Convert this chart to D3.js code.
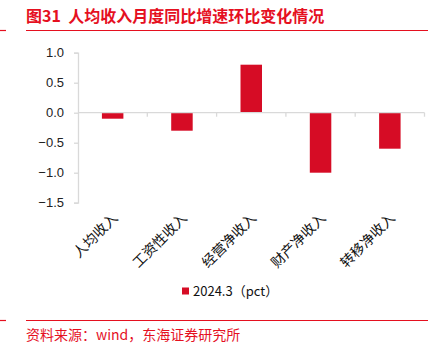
<!DOCTYPE html>
<html><head><meta charset="utf-8">
<script src="https://cdn.jsdelivr.net/npm/d3@7"></script>
<style>body{margin:0;background:#fff}svg{display:block}</style>
</head><body>
<script>
const categories = ["人均收入","工资性收入","经营净收入","财产净收入","转移净收入"];
const values = [-0.1, -0.3, 0.8, -1.0, -0.6];
const yTicks = [1.0, 0.5, 0.0, -0.5, -1.0, -1.5];
const seriesName = "2024.3（pct）";
const titleText = "图31  人均收入月度同比增速环比变化情况";
const sourceText = "资料来源：wind，东海证券研究所";

const W = 436, H = 345;
const red = "#e5101f", barColor = "#d60c25", axisColor = "#d9d9d9";
const svg = d3.select("body").append("svg").attr("width", W).attr("height", H);
const cjk = "'Noto Sans CJK SC','Liberation Sans',sans-serif";

// title
svg.append("text").attr("x", 26).attr("y", 22).attr("fill", red)
  .attr("font-family", cjk).attr("font-weight", "bold").attr("font-size", 16)
  .style("white-space","pre").text(titleText);
[[0,6],[26,428]].forEach(([a,b]) => svg.append("line").attr("x1",a).attr("x2",b)
  .attr("y1",30.5).attr("y2",30.5).attr("stroke",red).attr("stroke-width",1.2));
[[0,6],[26,428]].forEach(([a,b]) => svg.append("line").attr("x1",a).attr("x2",b)
  .attr("y1",320.5).attr("y2",320.5).attr("stroke",red).attr("stroke-width",1.2));
svg.append("text").attr("x", 26).attr("y", 340).attr("fill", red)
  .attr("font-family", cjk).attr("font-size", 14).text(sourceText);

const x = d3.scaleBand().domain(categories).range([78, 424.5]).paddingInner(0.69).paddingOuter(0.345);
const y = d3.scaleLinear().domain([-1.5, 1.0]).range([202.7, 52.7]);

// y axis
const ya = svg.append("g").attr("transform", "translate(78,0)")
  .call(d3.axisLeft(y).tickValues(yTicks).tickFormat(d3.format(".1f")).tickSizeOuter(0).tickSize(4).tickPadding(10));
ya.select(".domain").attr("stroke", axisColor).attr("stroke-width", 1.3);
ya.selectAll(".tick line").attr("stroke", axisColor).attr("stroke-width", 1.3);
ya.selectAll("text").attr("fill", "#222").attr("font-size", 13).attr("font-family", "'Liberation Sans',Arial,sans-serif");

// bars
svg.selectAll("rect.bar").data(values).enter().append("rect").attr("class","bar")
  .attr("x", (d,i) => x(categories[i]))
  .attr("width", x.bandwidth())
  .attr("y", d => y(Math.max(0,d)))
  .attr("height", d => Math.abs(y(d) - y(0)))
  .attr("fill", barColor);

// x axis at zero
const xb = d3.scalePoint().domain(d3.range(categories.length+1)).range([78, 424.5]);
svg.append("line").attr("x1",78).attr("x2",424.5).attr("y1",y(0)).attr("y2",y(0))
  .attr("stroke",axisColor).attr("stroke-width",1.3);
svg.selectAll("line.xt").data(d3.range(1,categories.length+1)).enter().append("line").attr("class","xt")
  .attr("x1", d=>xb(d)).attr("x2", d=>xb(d)).attr("y1", y(0)).attr("y2", y(0)+4)
  .attr("stroke",axisColor).attr("stroke-width",1.3);

// category labels
svg.selectAll("text.cat").data(categories).enter().append("text").attr("class","cat")
  .attr("transform", d => `translate(${x(d)+x.bandwidth()/2+6},219) rotate(-45)`)
  .attr("text-anchor","end").attr("font-family", cjk).attr("font-size", 14).attr("fill","#111")
  .text(d => d);

// legend
svg.append("rect").attr("x",182).attr("y",287.5).attr("width",7).attr("height",7).attr("fill",barColor);
svg.append("text").attr("x",193).attr("y",296).attr("font-family", cjk).attr("font-size",13).attr("fill","#111").text(seriesName);
</script>
</body></html>
